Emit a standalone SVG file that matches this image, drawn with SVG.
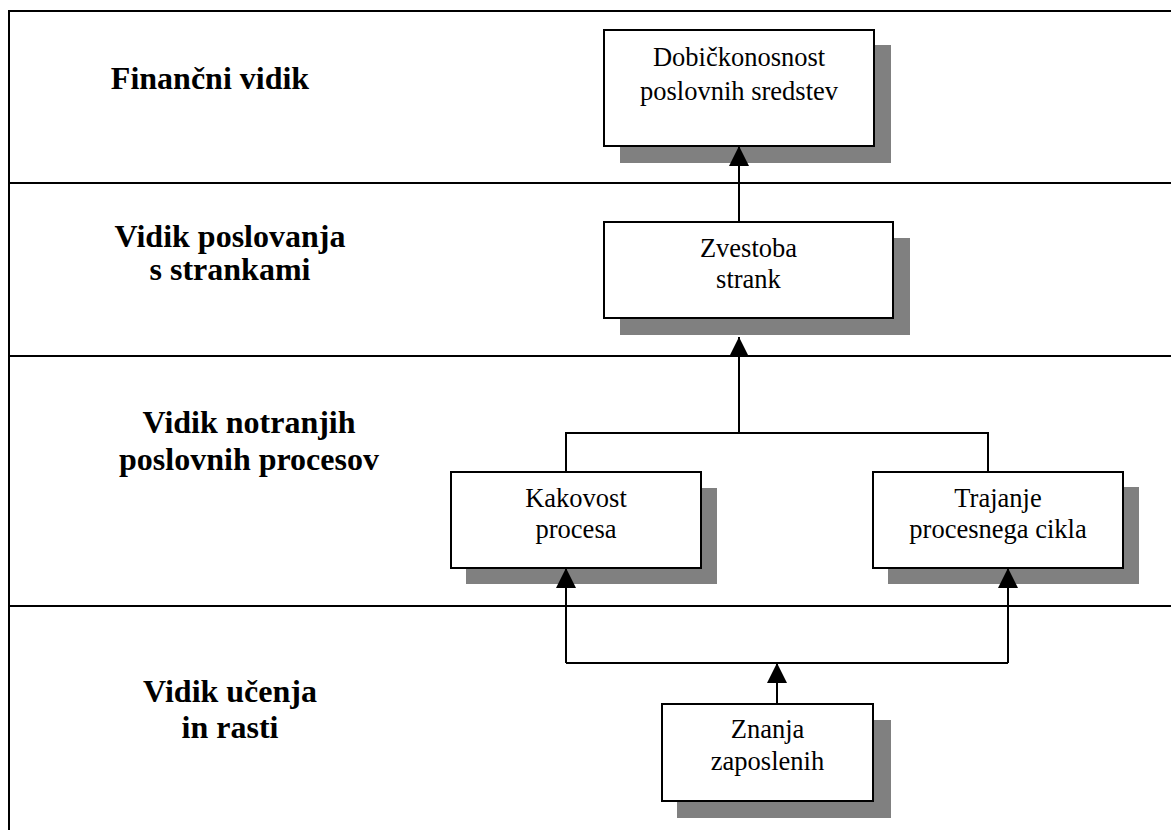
<svg xmlns="http://www.w3.org/2000/svg" width="1171" height="830" viewBox="0 0 1171 830">
<style>
.frame{stroke:#000;stroke-width:2;fill:none}
.shadow{fill:#808080;stroke:none}
.box{fill:#fff;stroke:#000;stroke-width:2}
.lbl{font-weight:bold;font-size:32px;fill:#000;text-anchor:middle}
.txt{font-size:26.5px;fill:#000;text-anchor:middle}
.conn{stroke:#000;stroke-width:2;fill:none}
</style>
<defs>
<marker id="arr" viewBox="0 0 20 20" refX="20" refY="10" markerWidth="20" markerHeight="20" markerUnits="userSpaceOnUse" orient="auto">
<path d="M0,0 L20,10 L0,20 Z" fill="#000"/>
</marker>
</defs>
<rect width="1171" height="830" fill="#fff"/>
<g id="frame">
<path class="frame" d="M9,830 V11 H1171 M9,183 H1171 M9,356 H1171 M9,606 H1171"/>
</g>
<g font-family="'Liberation Serif', 'DejaVu Serif', 'Times New Roman', serif">
<g id="labels">
<text class="lbl" x="210" y="89">Finančni vidik</text>
<text class="lbl" x="230" y="247">Vidik poslovanja</text>
<text class="lbl" x="230" y="280">s strankami</text>
<text class="lbl" x="249" y="433">Vidik notranjih</text>
<text class="lbl" x="249" y="470">poslovnih procesov</text>
<text class="lbl" x="230" y="702">Vidik učenja</text>
<text class="lbl" x="230" y="738">in rasti</text>
</g>
<g id="node-dobickonosnost">
<rect class="shadow" x="620" y="45" width="271" height="118"/>
<rect class="box" x="604" y="30" width="270" height="116"/>
<text class="txt" x="739" y="66">Dobičkonosnost</text>
<text class="txt" x="739" y="100">poslovnih sredstev</text>
</g>
<g id="node-zvestoba">
<rect class="shadow" x="620" y="238" width="290" height="97"/>
<rect class="box" x="604" y="222" width="289" height="96"/>
<text class="txt" x="748.5" y="257">Zvestoba</text>
<text class="txt" x="748.5" y="288">strank</text>
</g>
<g id="node-kakovost">
<rect class="shadow" x="466" y="488" width="251" height="96"/>
<rect class="box" x="451" y="472" width="250" height="96"/>
<text class="txt" x="576" y="507">Kakovost</text>
<text class="txt" x="576" y="538">procesa</text>
</g>
<g id="node-trajanje">
<rect class="shadow" x="888" y="487" width="251" height="97"/>
<rect class="box" x="873" y="472" width="250" height="96"/>
<text class="txt" x="998" y="507">Trajanje</text>
<text class="txt" x="998" y="538">procesnega cikla</text>
</g>
<g id="node-znanja">
<rect class="shadow" x="677" y="720" width="214" height="98"/>
<rect class="box" x="662" y="704" width="211" height="97"/>
<text class="txt" x="767.5" y="738">Znanja</text>
<text class="txt" x="767.5" y="770">zaposlenih</text>
</g>
</g>
<g id="connectors">
<path class="conn" d="M739,222 V146" marker-end="url(#arr)"/>
<path class="conn" d="M739,433 V337" marker-end="url(#arr)"/>
<path class="conn" d="M566,472 V433 H988 V472"/>
<path class="conn" d="M566,663 H1008"/>
<path class="conn" d="M566,663 V568" marker-end="url(#arr)"/>
<path class="conn" d="M1008,663 V568" marker-end="url(#arr)"/>
<path class="conn" d="M777,704 V663" marker-end="url(#arr)"/>
</g>
</svg>
